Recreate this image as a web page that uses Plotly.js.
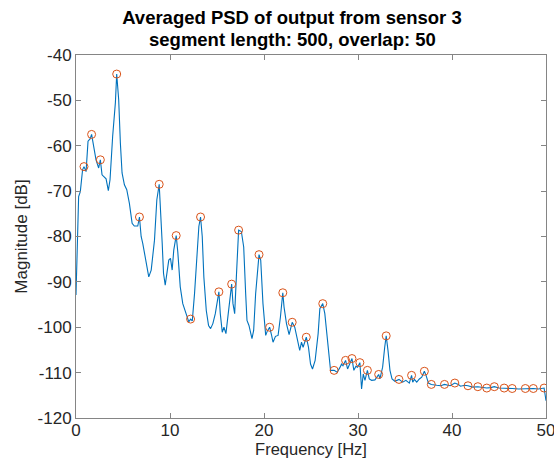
<!DOCTYPE html>
<html>
<head>
<meta charset="utf-8">
<script src="https://cdn.plot.ly/plotly-3.0.1.min.js"></script>
<style>html,body{margin:0;padding:0;background:#fff;}#chart{width:554px;height:459px;}</style>
</head>
<body>
<div id="chart"></div>
<script>
// PSD curve (frequency in Hz, magnitude in dB)
const freq = [0, 0.15, 0.28, 0.46, 0.7, 0.85, 1.07, 1.28, 1.5, 1.66, 1.84, 2.13, 2.41, 2.59, 2.77, 3.02, 3.2, 3.44, 3.62, 3.9, 4.19, 4.33, 4.54, 4.72, 4.9, 5.15, 5.4, 5.68, 5.97, 6.2, 6.57, 6.75, 6.93, 7.1, 7.39, 7.74, 8.0, 8.35, 8.6, 8.85, 9.17, 9.31, 9.49, 9.66, 9.87, 10.05, 10.23, 10.4, 10.66, 10.83, 11.09, 11.36, 11.65, 11.83, 12.0, 12.19, 12.37, 12.61, 12.86, 13.07, 13.25, 13.43, 13.6, 13.86, 14.1, 14.32, 14.56, 14.82, 15.2, 15.35, 15.56, 15.74, 15.95, 16.2, 16.56, 16.7, 16.88, 17.06, 17.3, 17.59, 17.84, 18.05, 18.19, 18.4, 18.72, 18.9, 19.11, 19.47, 19.65, 19.89, 20.18, 20.36, 20.6, 20.79, 20.96, 21.22, 21.5, 21.75, 22.0, 22.13, 22.39, 22.67, 23.0, 23.27, 23.52, 23.8, 23.99, 24.16, 24.5, 24.73, 24.95, 25.16, 25.44, 25.76, 25.94, 26.25, 26.47, 26.72, 26.93, 27.08, 27.46, 27.78, 28.07, 28.25, 28.4, 28.68, 28.89, 29.14, 29.36, 29.56, 29.78, 29.95, 30.2, 30.38, 30.56, 30.74, 31.0, 31.2, 31.45, 31.8, 32.2, 32.33, 32.62, 32.84, 33.0, 33.19, 33.4, 33.62, 33.93, 34.36, 34.75, 35.1, 35.46, 35.7, 35.82, 36.0, 36.25, 36.53, 36.78, 37.06, 37.24, 37.49, 37.8, 38.38, 38.8, 39.2, 39.8, 40.3, 40.68, 40.9, 41.35, 41.7, 42.2, 42.75, 43.2, 43.7, 44.1, 44.5, 45.0, 45.55, 46.0, 46.4, 47.1, 47.8, 48.2, 48.65, 49.2, 49.8, 50.0];
const magnitude = [-92.9, -80.0, -71.2, -70.1, -65.3, -64.6, -65.7, -59.0, -58.5, -57.5, -59.4, -63.1, -64.9, -63.1, -66.4, -66.9, -67.3, -69.9, -67.5, -57.9, -50.5, -44.2, -49.8, -59.4, -66.0, -68.6, -69.7, -72.7, -77.1, -77.7, -77.7, -75.7, -80.0, -81.5, -85.2, -88.9, -87.4, -80.8, -71.9, -68.5, -81.5, -88.1, -90.7, -88.1, -85.2, -84.8, -87.4, -83.0, -79.8, -83.4, -91.1, -94.8, -96.6, -98.1, -98.8, -98.2, -98.6, -92.6, -84.5, -77.8, -75.7, -80.0, -88.9, -96.3, -99.6, -100.3, -99.2, -97.0, -92.2, -97.0, -101.1, -100.0, -101.4, -97.0, -90.5, -94.8, -97.0, -88.9, -78.6, -78.9, -82.3, -92.6, -98.5, -99.6, -102.5, -100.7, -92.6, -84.0, -85.2, -94.8, -101.8, -100.8, -100.0, -101.6, -103.3, -102.0, -101.8, -97.7, -92.4, -95.5, -99.2, -101.6, -98.9, -100.0, -102.2, -105.1, -103.3, -104.4, -102.2, -104.4, -108.1, -109.2, -107.3, -101.4, -95.9, -94.8, -97.0, -102.2, -106.6, -109.5, -109.5, -109.9, -108.9, -108.1, -108.5, -107.3, -109.2, -108.1, -106.9, -109.5, -108.6, -108.8, -107.8, -113.6, -110.3, -111.7, -109.5, -111.4, -111.7, -111.6, -110.4, -111.4, -108.8, -104.4, -101.9, -105.1, -109.5, -111.4, -111.9, -111.5, -112.1, -111.7, -112.3, -110.6, -112.1, -111.5, -112.1, -111.4, -111.0, -109.7, -110.6, -112.3, -112.6, -112.8, -112.9, -112.6, -112.9, -112.3, -112.6, -113.0, -112.8, -112.9, -113.2, -113.1, -113.3, -113.4, -113.3, -113.1, -113.4, -113.4, -113.5, -113.5, -113.6, -113.5, -113.6, -113.5, -113.6, -113.4, -116.2];

// Detected peaks
const peakFreq = [0.85, 1.66, 2.59, 4.33, 6.75, 8.85, 10.66, 12.19, 13.25, 15.2, 16.56, 17.3, 19.47, 20.6, 22.0, 23.0, 24.5, 26.25, 27.46, 28.68, 29.36, 30.2, 31.0, 32.2, 33.0, 34.36, 35.7, 37.06, 37.8, 39.2, 40.3, 41.7, 42.75, 43.7, 44.5, 45.55, 46.4, 47.8, 48.65, 49.8];
const peakMag = [-64.6, -57.5, -63.1, -44.2, -75.7, -68.5, -79.8, -98.2, -75.7, -92.2, -90.5, -78.6, -84.0, -100.0, -92.4, -98.9, -102.2, -94.8, -109.5, -107.3, -106.9, -107.8, -109.5, -110.4, -101.9, -111.5, -110.6, -109.7, -112.6, -112.6, -112.3, -112.9, -113.1, -113.4, -113.1, -113.4, -113.5, -113.5, -113.5, -113.4];

const xTicks = [0, 10, 20, 30, 40, 50];
const yTicks = [-120, -110, -100, -90, -80, -70, -60, -50, -40];

const titleLine1 = 'Averaged PSD of output from sensor 3';
const titleLine2 = 'segment length: 500, overlap: 50';

const FONT = '"Liberation Sans", Arial, Helvetica, sans-serif';
const AXC = '#858585';
const TXT = '#262626';

const traces = [
  {x: freq, y: magnitude, type: 'scatter', mode: 'lines',
   line: {color: '#0072BD', width: 1.1}, hoverinfo: 'x+y', showlegend: false},
  {x: peakFreq, y: peakMag, type: 'scatter', mode: 'markers',
   marker: {symbol: 'circle-open', size: 8, color: '#D95319', line: {width: 1, color: '#D95319'}},
   showlegend: false}
];

const axisCommon = {
  showgrid: false, zeroline: false, showline: true, linecolor: AXC, linewidth: 1,
  mirror: 'ticks', ticks: 'inside', ticklen: 5, tickwidth: 1, tickcolor: AXC,
  tickfont: {family: FONT, size: 17, color: TXT}, automargin: false, ticklabeloverflow: 'allow'
};

const layout = {
  width: 554, height: 459,
  margin: {l: 76, r: 8, t: 55, b: 41, pad: 0},
  paper_bgcolor: '#fff', plot_bgcolor: '#fff',
  font: {family: FONT, color: TXT},
  title: {text: '<b>' + titleLine1 + '</b>', font: {family: FONT, size: 18.5, color: '#000'},
          x: 0.527, xanchor: 'center', xref: 'container', y: 0.962, yref: 'container', yanchor: 'middle'},
  annotations: [{text: '<b>' + titleLine2 + '</b>', xref: 'paper', yref: 'paper', x: 0.4596, y: 1.043,
                 xanchor: 'center', yanchor: 'middle', showarrow: false,
                 font: {family: FONT, size: 18.5, color: '#000'}}],
  xaxis: Object.assign({}, axisCommon, {range: [0, 50], tickvals: xTicks, ticktext: xTicks.map(String),
          ticklabelstandoff: -3,
          title: {text: 'Frequency [Hz]', font: {family: FONT, size: 16.5, color: TXT}, standoff: 2}}),
  yaxis: Object.assign({}, axisCommon, {range: [-120, -40], tickvals: yTicks, ticktext: yTicks.map(String),
          title: {text: 'Magnitude [dB]', font: {family: FONT, size: 17, color: TXT}, standoff: 5}})
};

Plotly.newPlot('chart', traces, layout, {displayModeBar: false, staticPlot: true});
</script>
</body>
</html>
